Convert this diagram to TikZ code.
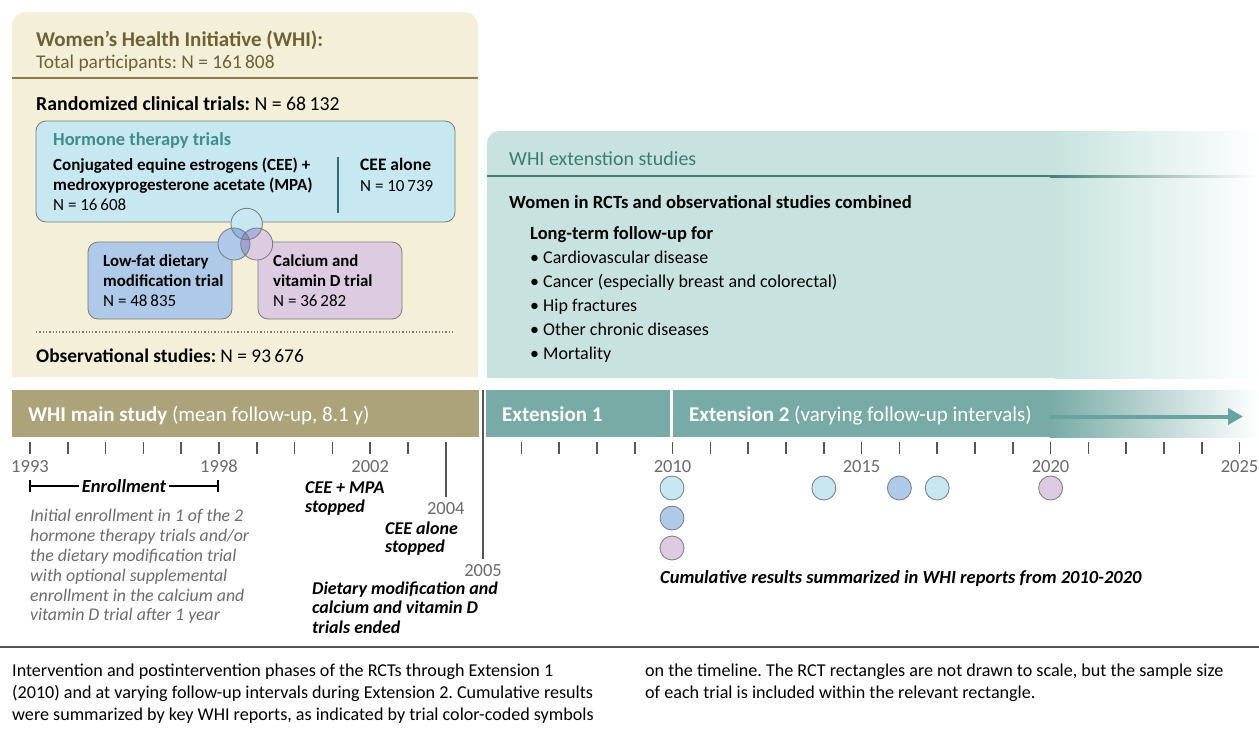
\documentclass[tikz,border=0pt]{standalone}
\usepackage{fontspec}
\setmainfont{Carlito}
\usetikzlibrary{arrows.meta}
\definecolor{beige}{HTML}{F4EFD8}
\definecolor{olivetxt}{HTML}{6E6232}
\definecolor{olivelin}{HTML}{8C7B46}
\definecolor{hormfill}{HTML}{C7E8F1}
\definecolor{tealtxt}{HTML}{3F8C8F}
\definecolor{divcol}{HTML}{2E6E72}
\definecolor{lowfill}{HTML}{AFC9E8}
\definecolor{calfill}{HTML}{DDCBE2}
\definecolor{extbg}{HTML}{C8E3DF}
\definecolor{exthead}{HTML}{3A7D72}
\definecolor{extline}{HTML}{467F74}
\definecolor{mainbar}{HTML}{ADA37A}
\definecolor{extbar}{HTML}{78ABA6}
\definecolor{arrowcol}{HTML}{68A39D}
\definecolor{tickcol}{HTML}{555555}
\definecolor{labcol}{HTML}{6B6B6B}
\definecolor{desccol}{HTML}{6D6D6D}
\definecolor{boxline}{HTML}{7A7A7A}
\definecolor{vTL}{HTML}{8DB8E2}
\definecolor{vTR}{HTML}{ABB2DF}
\definecolor{vLR}{HTML}{9EA3D3}
\definecolor{vTLR}{HTML}{8E94CA}
\newcommand{\fs}[1]{\fontsize{#1}{#1}\selectfont}
\frenchspacing
\begin{document}
\frenchspacing
\begin{tikzpicture}[x=1pt,y=-1pt,
  txt/.style={anchor=base west,inner sep=0pt},
  ctxt/.style={anchor=base,inner sep=0pt},
  trialbox/.style={draw=boxline,line width=0.8pt,rounded corners=10pt,inner sep=0pt},
  resdot/.style={circle,draw=boxline,line width=0.8pt,minimum size=24pt,inner sep=0pt},
  tickline/.style={draw=tickcol,line width=1.5pt},
  ylab/.style={ctxt,text=labcol,font=\fs{18.5}},
  eventlab/.style={txt,font=\fs{18}\bfseries\itshape},
  desctxt/.style={txt,text=desccol,font=\fs{17.8}\itshape},
  captxt/.style={txt,font=\fs{18.1}},
  bultxt/.style={txt,font=\fs{18}},
  bartxt/.style={txt,text=white,font=\fs{21}},
]
\useasboundingbox[fill=white] (0,0) rectangle (1259,740);

% ---------------- left box
\fill[beige,rounded corners=14pt] (12,12) rectangle (478,377);
\fill[beige] (12,200) rectangle (478,377);
\node[txt,text=olivetxt,font=\fs{21}\bfseries] (title) at (36,46) {Women’s Health Initiative (WHI):};
\node[txt,text=olivetxt,font=\fs{19.4}] (total) at (36,68) {Total participants: N = 161\,808};
\draw[olivelin,line width=2pt] (12,78) -- (478,78);
\node[txt,font=\fs{19.8}] (rct) at (36,110) {\bfseries Randomized clinical trials: \mdseries N = 68\,132};

\node[trialbox,fill=hormfill,minimum width=419pt,minimum height=101pt] (hbox) at (245.5,171.5) {};
\node[txt,text=tealtxt,font=\fs{18.4}\bfseries] (htitle) at (53,145) {Hormone therapy trials};
\node[txt,font=\fs{17}\bfseries] (cee1) at (53,170) {Conjugated equine estrogens (CEE) +};
\node[txt,font=\fs{17}\bfseries] (cee2) at (53,190) {medroxyprogesterone acetate (MPA)};
\node[txt,font=\fs{17}] (cee3) at (53,210) {N = 16\,608};
\draw[divcol,line width=1.5pt] (338,157) -- (338,213);
\node[txt,font=\fs{17.5}\bfseries] (ceea1) at (360,170) {CEE alone};
\node[txt,font=\fs{17}] (ceea2) at (360,191) {N = 10\,739};

\node[trialbox,fill=lowfill,minimum width=144pt,minimum height=77pt] (lowbox) at (160,280.5) {};
\node[txt,font=\fs{16.8}\bfseries] (low1) at (103,266) {Low-fat dietary};
\node[txt,font=\fs{16.8}\bfseries] (low2) at (103,286) {modi{}fication trial};
\node[txt,font=\fs{17}] (low3) at (103,306) {N = 48\,835};
\node[trialbox,fill=calfill,minimum width=144pt,minimum height=77pt] (calbox) at (330,280.5) {};
\node[txt,font=\fs{16.8}\bfseries] (cal1) at (273,266) {Calcium and};
\node[txt,font=\fs{16.8}\bfseries] (cal2) at (273,286) {vitamin D trial};
\node[txt,font=\fs{17}] (cal3) at (273,306) {N = 36\,282};

% venn
\fill[hormfill] (246.7,224) circle (15.7);
\fill[lowfill] (234,244) circle (16);
\fill[calfill] (256.7,244) circle (16);
\begin{scope}
  \clip (246.7,224) circle (15.7);
  \fill[vTL] (234,244) circle (16);
  \fill[vTR] (256.7,244) circle (16);
\end{scope}
\begin{scope}
  \clip (234,244) circle (16);
  \clip (256.7,244) circle (16);
  \fill[vLR] (220,225) rectangle (270,262);
\end{scope}
\begin{scope}
  \clip (246.7,224) circle (15.7);
  \clip (234,244) circle (16);
  \fill[vTLR] (256.7,244) circle (16);
\end{scope}
\draw[boxline,line width=0.8pt] (246.7,224) circle (15.7) (234,244) circle (16) (256.7,244) circle (16);

\draw[boxline,line width=1.3pt,dash pattern=on 1.3pt off 2pt] (36,332) -- (455,332);
\node[txt,font=\fs{19.4}] (obs) at (36,362) {\bfseries Observational studies: \mdseries N = 93\,676};

% ---------------- right box
\fill[extbg,rounded corners=12pt] (487,131) rectangle (1060,378);
\fill[extbg] (700,131) rectangle (1060,378);
\fill[extbg] (487,300) rectangle (700,378);
\shade[left color=extbg,right color=white] (1055,131) rectangle (1259,378);
\draw[extline,line width=2pt] (487,176) -- (1050,176);
\shade[left color=extline,right color=white] (1050,175) rectangle (1259,177.5);
\node[txt,text=exthead,font=\fs{20}] (exttitle) at (509,165) {WHI extenstion studies};
\node[txt,font=\fs{18.6}\bfseries] (women) at (509,208) {Women in RCTs and observational studies combined};
\node[txt,font=\fs{18.5}\bfseries] (longterm) at (530,239) {Long-term follow-up for};
\node[bultxt] (b1) at (530,263) {• Cardiovascular disease};
\node[bultxt] (b2) at (530,287) {• Cancer (especially breast and colorectal)};
\node[bultxt] (b3) at (530,311) {• Hip fractures};
\node[bultxt] (b4) at (530,335) {• Other chronic diseases};
\node[bultxt] (b5) at (530,359) {• Mortality};

% ---------------- timeline bars
\node[fill=mainbar,minimum width=467pt,minimum height=47pt,inner sep=0pt] (mainbar) at (245.5,413.5) {};
\node[bartxt] (maintxt) at (28,421) {\bfseries WHI main study \mdseries(mean follow-up, 8.1 y)};
\node[fill=extbar,minimum width=184pt,minimum height=47pt,inner sep=0pt] (ext1bar) at (578,413.5) {};
\node[bartxt,font=\fs{21}\bfseries] (ext1txt) at (502,421) {Extension 1};
\fill[extbar] (673,390) rectangle (1050,437);
\shade[left color=extbar,right color=white] (1049.5,390) rectangle (1259,437);
\node[bartxt] (ext2txt) at (689,421) {\bfseries Extension 2 \mdseries(varying follow-up intervals)};
\coordinate (arrS) at (1050,416.5);
\coordinate (arrE) at (1243,416.5);
\draw[arrowcol,line width=4pt,-{Triangle[length=15pt,width=16pt]}] (arrS) -- (arrE);

% separator 2005
\coordinate (sepT) at (483,390);
\coordinate (sepB) at (483,559);
\draw[tickcol,line width=1.6pt] (sepT) -- (sepB);

% ticks
\foreach \yr in {1993,...,2003,2006,2007,...,2025}{
  \pgfmathsetmacro\xx{30+37.8*(\yr-1993)}
  \draw[tickline] (\xx,442) -- (\xx,454);
}
\coordinate (t04T) at (445.8,442);
\coordinate (t04B) at (445.8,497);
\draw[tickline] (t04T) -- (t04B);
\foreach \yr/\nm in {1993/ya,1998/yb,2002/yc,2010/yd,2015/ye,2020/yf,2025/yg}{
  \pgfmathsetmacro\xx{30+37.8*(\yr-1993)}
  \node[ylab] (\nm) at (\xx,472) {\yr};
}
\node[ylab] (y04) at (445.8,514) {2004};
\node[ylab] (y05) at (483,576) {2005};

% enrollment
\node[inner sep=0pt,font=\fs{18.5}\bfseries\itshape,anchor=base] (enr) at (124,492) {Enrollment};
\coordinate (enrL) at (30,486);
\coordinate (enrR) at (218,486);
\draw[black,line width=1.5pt] (enrL) -- ([xshift=-3pt]enr.west|-enrL);
\draw[black,line width=1.5pt] ([xshift=3pt]enr.east|-enrR) -- (enrR);
\draw[black,line width=1.5pt] ([yshift=-6pt]enrL) -- ([yshift=6pt]enrL);
\draw[black,line width=1.5pt] ([yshift=-6pt]enrR) -- ([yshift=6pt]enrR);
\node[desctxt] (d1) at (30,521) {Initial enrollment in 1 of the 2};
\node[desctxt] (d2) at (30,541) {hormone therapy trials and/or};
\node[desctxt] (d3) at (30,561) {the dietary modi{}fication trial};
\node[desctxt] (d4) at (30,581) {with optional supplemental};
\node[desctxt] (d5) at (30,601) {enrollment in the calcium and};
\node[desctxt] (d6) at (30,620) {vitamin D trial after 1 year};

\node[eventlab] (e1a) at (305,493) {CEE + MPA};
\node[eventlab] (e1b) at (305,512) {stopped};
\node[eventlab] (e2a) at (385,534) {CEE alone};
\node[eventlab] (e2b) at (385,552) {stopped};
\node[eventlab] (e3a) at (312,594) {Dietary modi{}fication and};
\node[eventlab] (e3b) at (312,613) {calcium and vitamin D};
\node[eventlab] (e3c) at (312,633) {trials ended};

% result dots
\node[resdot,fill=hormfill] (r1) at (672,488) {};
\node[resdot,fill=lowfill] (r2) at (672,518) {};
\node[resdot,fill=calfill] (r3) at (672,548) {};
\node[resdot,fill=hormfill] (r4) at (823.8,488) {};
\node[resdot,fill=lowfill] (r5) at (899.4,488) {};
\node[resdot,fill=hormfill] (r6) at (937.2,488) {};
\node[resdot,fill=calfill] (r7) at (1050.6,488) {};
\node[eventlab,font=\fs{18.5}\bfseries\itshape] (cum) at (660,583) {Cumulative results summarized in WHI reports from 2010-2020};

% bottom rule & caption
\draw[tickcol,line width=2pt] (0,647) -- (1259,647);
\node[captxt] (c1) at (12,676) {Intervention and postintervention phases of the RCTs through Extension 1};
\node[captxt] (c2) at (12,698) {(2010) and at varying follow-up intervals during Extension 2. Cumulative results};
\node[captxt] (c3) at (12,720) {were summarized by key WHI reports, as indicated by trial color-coded symbols};
\node[captxt] (c4) at (645,676) {on the timeline. The RCT rectangles are not drawn to scale, but the sample size};
\node[captxt] (c5) at (645,698) {of each trial is included within the relevant rectangle.};
\end{tikzpicture}
\end{document}
